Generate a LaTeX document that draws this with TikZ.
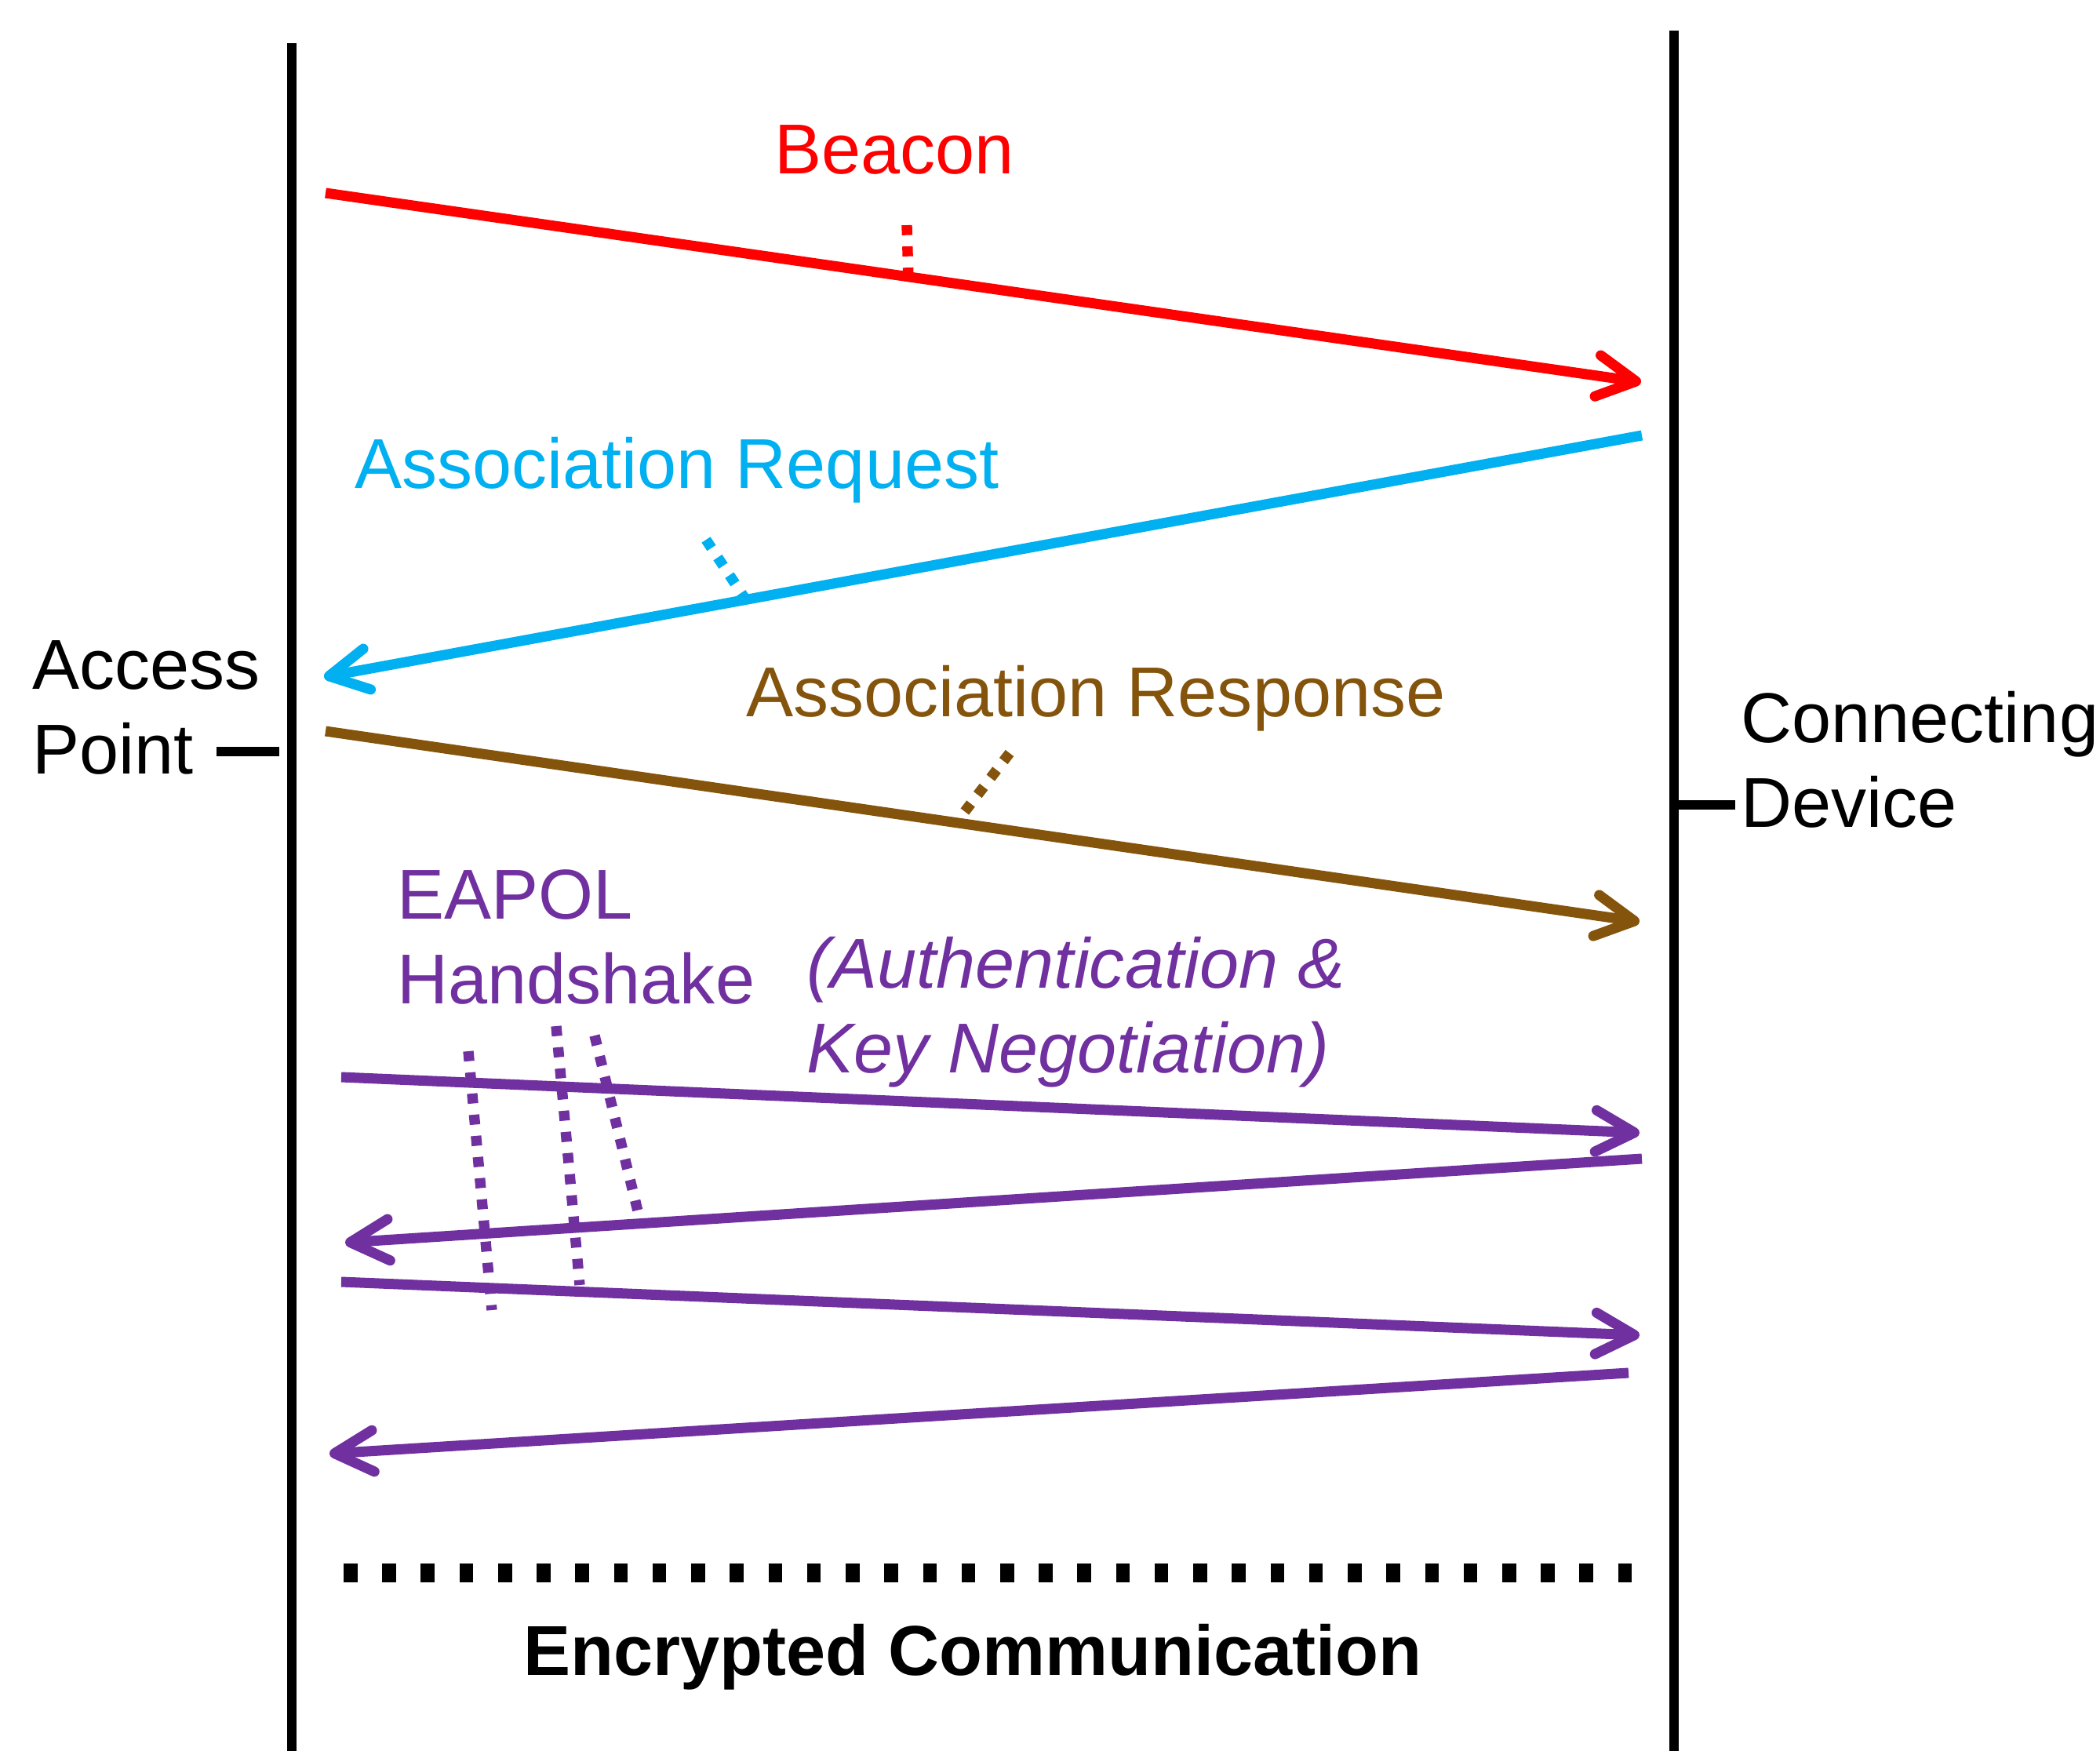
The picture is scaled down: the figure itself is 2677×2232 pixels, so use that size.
\documentclass[tikz,border=0pt]{standalone}
\usepackage{fontspec}
\setmainfont{Liberation Sans}
\usetikzlibrary{arrows.meta}
\definecolor{reqblue}{HTML}{00B0F0}
\definecolor{respbrown}{RGB}{132,84,12}
\definecolor{eapurple}{HTML}{7030A0}
\begin{document}
\begin{tikzpicture}[x=0.01cm,y=-0.01cm,
  lbl/.style={inner sep=0pt,font=\fontsize{25.6}{30.7}\selectfont},
  life/.style={line width=3.5pt},
  msg/.style={line width=3.7pt,-{Straight Barb[length=14pt,width=15pt,round]}},
  tick/.style={line width=3.8pt,dash pattern=on 3.6pt off 4.1pt}]
\useasboundingbox (0,0) rectangle (2677,2232);
\coordinate (apTop) at (372,55);
\coordinate (apBot) at (372,2260);
\coordinate (cdTop) at (2134,39);
\coordinate (cdBot) at (2134,2260);
\draw[life] (apTop) -- (apBot);
\draw[life] (cdTop) -- (cdBot);
\node[lbl,align=left,anchor=base west] (ap) at (41,986) {Access\\Point};
\node[lbl,align=left,anchor=base west] (cd) at (2219,1054) {Connecting\\Device};
\coordinate (apTick) at (276,958);
\coordinate (cdTick) at (2212,1026);
\draw[life,shorten >=4.5pt] (apTick) -- (apTick -| apTop);
\draw[life] (cdTick) -- (cdTick -| cdTop);
\node[lbl,red,anchor=base] (beacon) at (1140,221) {Beacon};
\node[lbl,reqblue,anchor=base west] (req) at (452,622) {Association Request};
\node[lbl,respbrown,anchor=base west] (resp) at (951,913) {Association Response};
\node[lbl,eapurple,align=left,anchor=base west] (eapol) at (506,1279) {EAPOL\\Handshake};
\node[lbl,eapurple,align=left,anchor=base west,font=\fontsize{25.6}{30.7}\selectfont\itshape] (auth) at (1028,1367) {(Authentication \&\\Key Negotiation)};
\node[lbl,anchor=base,font=\fontsize{25.6}{30.7}\selectfont\bfseries] (enc) at (1240,2135) {Encrypted Communication};
\coordinate (b1) at (415,246);
\coordinate (b2) at (2092,487);
\coordinate (r1) at (2093,555);
\coordinate (r2) at (413,863);
\coordinate (s1) at (415,932);
\coordinate (s2) at (2090,1175);
\coordinate (e1) at (435,1373);
\coordinate (e2) at (2090,1444);
\coordinate (e3) at (2093,1477);
\coordinate (e4) at (440,1584);
\coordinate (e5) at (435,1634);
\coordinate (e6) at (2090,1702);
\coordinate (e7) at (2076,1750);
\coordinate (e8) at (420,1853);
\draw[msg,red] (b1) -- (b2) coordinate[pos=0.443] (bMid);
\draw[msg,reqblue] (r1) -- (r2) coordinate[pos=0.68] (rMid);
\draw[msg,respbrown] (s1) -- (s2) coordinate[pos=0.48] (sMid);
\draw[msg,eapurple] (e1) -- (e2);
\draw[msg,eapurple] (e3) -- (e4);
\draw[msg,eapurple] (e5) -- (e6);
\draw[msg,eapurple] (e7) -- (e8);
\coordinate (bTick) at (1156,287);
\coordinate (rTick) at (900,688);
\coordinate (sTick) at (1287,960);
\draw[tick,red] (bTick) -- (bMid);
\draw[tick,reqblue] (rTick) -- (rMid);
\draw[tick,respbrown] (sTick) -- (sMid);
\coordinate (hA1) at (597,1340);
\coordinate (hA2) at (627,1670);
\coordinate (hB1) at (709,1308);
\coordinate (hB2) at (739,1638);
\coordinate (hC1) at (758,1320);
\coordinate (hC2) at (817,1560);
\draw[tick,eapurple] (hA1) -- (hA2);
\draw[tick,eapurple] (hB1) -- (hB2);
\draw[tick,eapurple] (hC1) -- (hC2);
\coordinate (enc1) at (438,2005);
\coordinate (enc2) at (2081,2005);
\draw[line width=7pt,dash pattern=on 5pt off 9pt] (enc1) -- (enc2);
\end{tikzpicture}
\end{document}
